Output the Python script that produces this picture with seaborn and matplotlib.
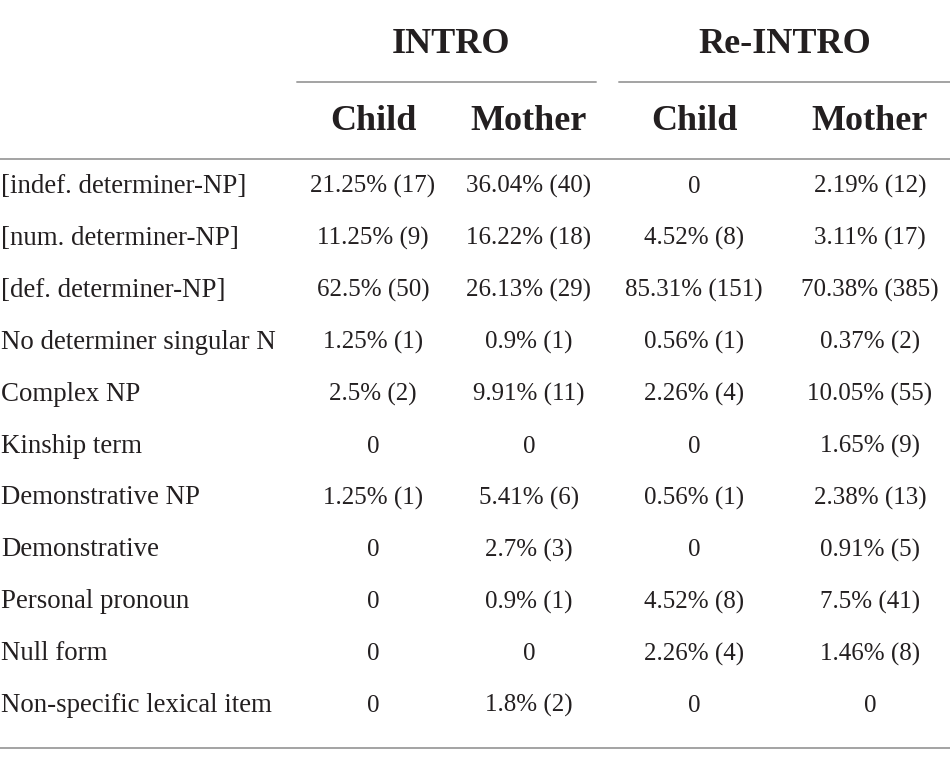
import matplotlib
matplotlib.use('Agg')
import matplotlib.pyplot as plt
import seaborn as sns

# table contents
groups = ['INTRO', 'Re-INTRO']
speakers = ['Child', 'Mother', 'Child', 'Mother']
row_labels = [
    '[indef. determiner-NP]',
    '[num. determiner-NP]',
    '[def. determiner-NP]',
    'No determiner singular N',
    'Complex NP',
    'Kinship term',
    'Demonstrative NP',
    'Demonstrative',
    'Personal pronoun',
    'Null form',
    'Non-specific lexical item',
]
intro_child = ['21.25% (17)', '11.25% (9)', '62.5% (50)', '1.25% (1)', '2.5% (2)',
               '0', '1.25% (1)', '0', '0', '0', '0']
intro_mother = ['36.04% (40)', '16.22% (18)', '26.13% (29)', '0.9% (1)', '9.91% (11)',
                '0', '5.41% (6)', '2.7% (3)', '0.9% (1)', '0', '1.8% (2)']
reintro_child = ['0', '4.52% (8)', '85.31% (151)', '0.56% (1)', '2.26% (4)',
                 '0', '0.56% (1)', '0', '4.52% (8)', '2.26% (4)', '0']
reintro_mother = ['2.19% (12)', '3.11% (17)', '70.38% (385)', '0.37% (2)', '10.05% (55)',
                  '1.65% (9)', '2.38% (13)', '0.91% (5)', '7.5% (41)', '1.46% (8)', '0']

sns.set_theme(style='white')
plt.rcParams['font.family'] = ['Liberation Serif', 'DejaVu Serif']

txt = '#231f20'
rule = '#a3a3a3'

fig = plt.figure(figsize=(9.5, 7.65), dpi=100)
ax = fig.add_axes([0, 0, 1, 1])
ax.set_xlim(0, 950)
ax.set_ylim(765, 0)
ax.axis('off')

col_x = [373, 529, 694, 870]
group_x = [451, 785]
row_base0, row_step = 193, 51.9

for g, gx in zip(groups, group_x):
    ax.text(gx, 53, g, ha='center', va='baseline', fontsize=26, fontweight='bold', color=txt)
ax.plot([297, 596], [82, 82], color=rule, lw=1.4)
ax.plot([619, 950], [82, 82], color=rule, lw=1.4)

for s, cx in zip(speakers, col_x):
    ax.text(cx, 130, s, ha='center', va='baseline', fontsize=26, fontweight='bold', color=txt)
ax.plot([0, 950], [159, 159], color=rule, lw=1.4)

columns = [intro_child, intro_mother, reintro_child, reintro_mother]
for i, lab in enumerate(row_labels):
    y = row_base0 + i * row_step
    ax.text(1, y, lab, ha='left', va='baseline', fontsize=19.4, color=txt)
    for col, cx in zip(columns, col_x):
        ax.text(cx, y, col[i], ha='center', va='baseline', fontsize=18, color=txt)

ax.plot([0, 950], [748, 748], color=rule, lw=1.4)

fig.savefig('out.png', dpi=100, facecolor='white')
